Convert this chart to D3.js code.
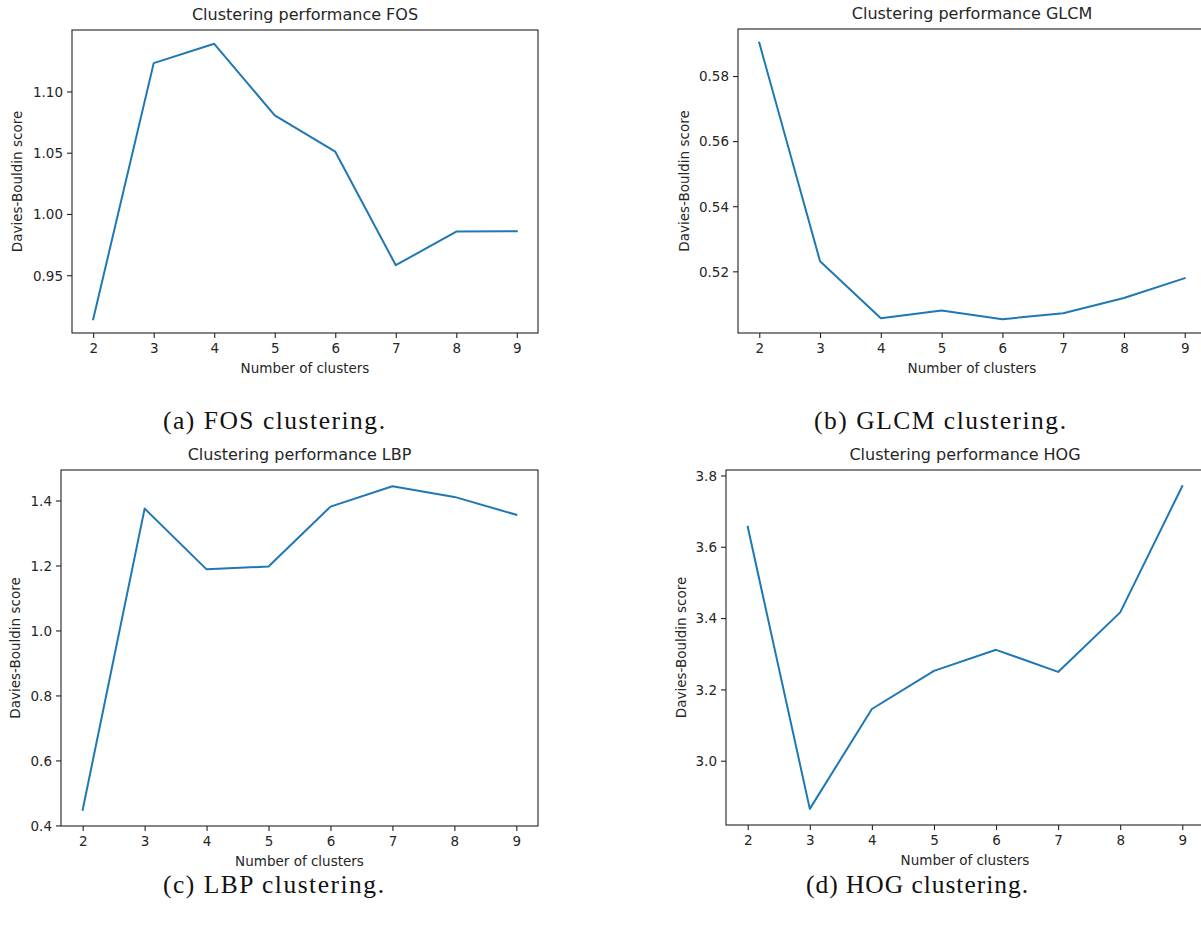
<!DOCTYPE html>
<html>
<head>
<meta charset="utf-8">
<script src="https://cdn.jsdelivr.net/npm/d3@7"></script>
<style>
  html, body { margin: 0; padding: 0; background: #fff; }
  svg { display: block; }
  .tick text { font-family: "DejaVu Sans", sans-serif; font-size: 13.5px; fill: #262626; }
</style>
</head>
<body>
<svg id="fig" width="1201" height="929"></svg>
<script>
// Number of clusters tried by k-means
const clusters = [2, 3, 4, 5, 6, 7, 8, 9];

// Davies-Bouldin score per feature set
const fosScores  = [0.9141, 1.1231, 1.1389, 1.0804, 1.0508, 0.9582, 0.9856, 0.9859];
const glcmScores = [0.5902, 0.5231, 0.5056, 0.5080, 0.5053, 0.5071, 0.5118, 0.5179];
const lbpScores  = [0.448, 1.375, 1.188, 1.197, 1.381, 1.444, 1.411, 1.356];
const hogScores  = [3.656, 2.865, 3.145, 3.252, 3.311, 3.249, 3.416, 3.770];

// Y tick values per panel
const fosTicks  = [0.95, 1.00, 1.05, 1.10];
const glcmTicks = [0.52, 0.54, 0.56, 0.58];
const lbpTicks  = [0.4, 0.6, 0.8, 1.0, 1.2, 1.4];
const hogTicks  = [3.0, 3.2, 3.4, 3.6, 3.8];

// Titles and captions
const titles   = ["Clustering performance FOS", "Clustering performance GLCM",
                  "Clustering performance LBP", "Clustering performance HOG"];
const captions = ["(a) FOS clustering.", "(b) GLCM clustering.",
                  "(c) LBP clustering.", "(d) HOG clustering."];

const xLabel = "Number of clusters";
const yLabel = "Davies-Bouldin score";

// Layout of the four axes boxes
const panels = [
  { scores: fosScores,  ticks: fosTicks,  fmt: ".2f", box: [72, 538, 30, 333],   ylabOff: 50, cap: { x: 274, y: 429, w: 222 } },
  { scores: glcmScores, ticks: glcmTicks, fmt: ".2f", box: [738, 1206, 29, 333], ylabOff: 49, cap: { x: 940, y: 429, w: 252 } },
  { scores: lbpScores,  ticks: lbpTicks,  fmt: ".1f", box: [61, 538, 470, 826],  ylabOff: 41, cap: { x: 273.5, y: 893, w: 221 } },
  { scores: hogScores,  ticks: hogTicks,  fmt: ".1f", box: [726, 1204, 470, 825], ylabOff: 40, cap: { x: 917, y: 893, w: 222 } }
];

const svg = d3.select("#fig");
const lineColor = "#1f77b4";
const textColor = "#262626";

panels.forEach((p, i) => {
  const [x0, x1, y0, y1] = p.box;
  const g = svg.append("g");

  // matplotlib-style 5% data margins
  const xExt = d3.extent(clusters);
  const xPad = (xExt[1] - xExt[0]) * 0.05;
  const yExt = d3.extent(p.scores);
  const yPad = (yExt[1] - yExt[0]) * 0.05;

  const x = d3.scaleLinear().domain([xExt[0] - xPad, xExt[1] + xPad]).range([x0, x1]);
  const y = d3.scaleLinear().domain([yExt[0] - yPad, yExt[1] + yPad]).range([y1, y0]);

  // data line
  const line = d3.line().x((d, k) => x(clusters[k])).y(d => y(d));
  g.append("path")
    .datum(p.scores)
    .attr("d", line)
    .attr("fill", "none")
    .attr("stroke", lineColor)
    .attr("stroke-width", 2)
    .attr("stroke-linejoin", "round")
    .attr("stroke-linecap", "square");

  // axes
  const xAxis = d3.axisBottom(x).tickValues(clusters).tickFormat(d3.format("d"))
    .tickSize(5).tickPadding(4);
  const yAxis = d3.axisLeft(y).tickValues(p.ticks).tickFormat(d3.format(p.fmt))
    .tickSize(5).tickPadding(4);

  const gx = g.append("g").attr("transform", `translate(0,${y1})`).call(xAxis);
  const gy = g.append("g").attr("transform", `translate(${x0},0)`).call(yAxis);
  [gx, gy].forEach(a => {
    a.select(".domain").remove();
    a.selectAll(".tick line").attr("stroke", "#222").attr("stroke-width", 1.1);
  });
  gx.selectAll(".tick text").attr("dy", null).attr("y", 20);
  gy.selectAll(".tick text").attr("dy", "0.36em");

  // frame
  g.append("rect")
    .attr("x", x0).attr("y", y0)
    .attr("width", x1 - x0).attr("height", y1 - y0)
    .attr("fill", "none")
    .attr("stroke", "#222")
    .attr("stroke-width", 1.1);

  // title
  g.append("text")
    .attr("x", (x0 + x1) / 2).attr("y", y0 - 10)
    .attr("text-anchor", "middle")
    .attr("font-family", "DejaVu Sans, sans-serif")
    .attr("font-size", 16)
    .attr("fill", textColor)
    .text(titles[i]);

  // axis labels
  g.append("text")
    .attr("x", (x0 + x1) / 2).attr("y", y1 + 40)
    .attr("text-anchor", "middle")
    .attr("font-family", "DejaVu Sans, sans-serif")
    .attr("font-size", 13.5)
    .attr("fill", textColor)
    .text(xLabel);

  g.append("text")
    .attr("transform", `translate(${x0 - p.ylabOff},${(y0 + y1) / 2}) rotate(-90)`)
    .attr("text-anchor", "middle")
    .attr("font-family", "DejaVu Sans, sans-serif")
    .attr("font-size", 13.5)
    .attr("fill", textColor)
    .text(yLabel);

  // sub-figure caption
  svg.append("text")
    .attr("x", p.cap.x).attr("y", p.cap.y)
    .attr("text-anchor", "middle")
    .attr("font-family", "Liberation Serif, serif")
    .attr("font-size", 25.5)
    .attr("fill", "#111")
    .attr("textLength", p.cap.w)
    .attr("lengthAdjust", "spacing")
    .text(captions[i]);
});
</script>
</body>
</html>
